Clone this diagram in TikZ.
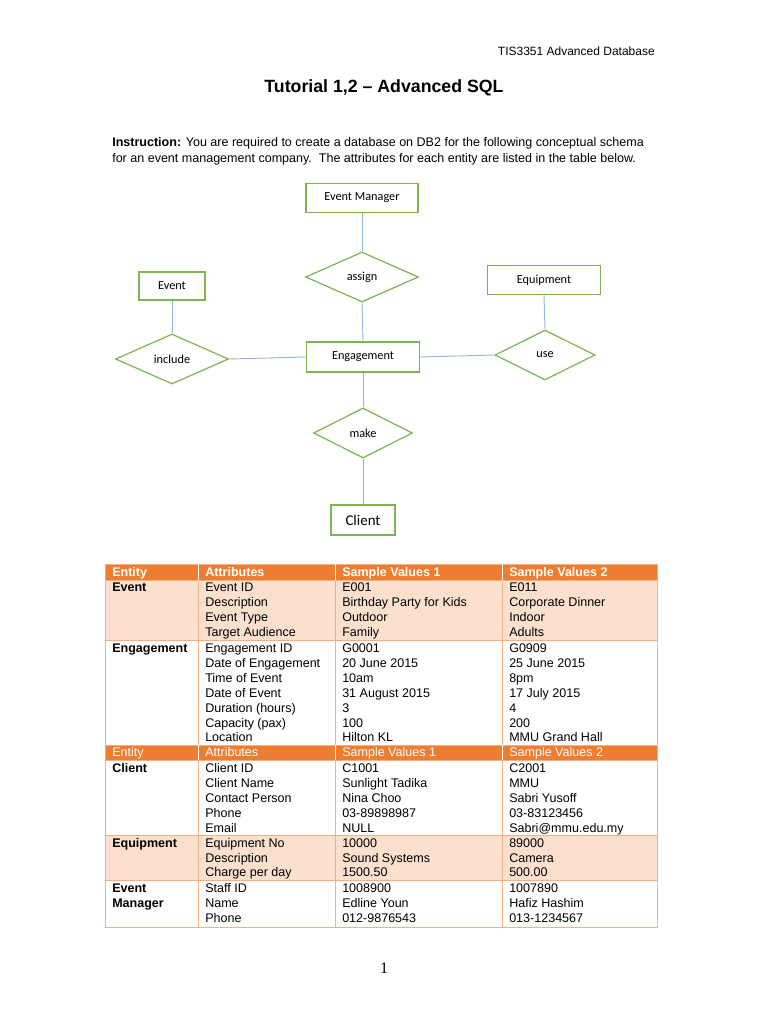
\documentclass[tikz,border=0pt]{standalone}
\usepackage{fontspec}
\setmainfont{Liberation Sans}
\newfontfamily\erfont{Carlito}
\newfontfamily\pagefont{Liberation Serif}
\usetikzlibrary{shapes.geometric}

\definecolor{erGreen}{RGB}{125,180,80}
\definecolor{erBlue}{RGB}{146,183,220}
\definecolor{tabOrange}{RGB}{237,125,49}
\definecolor{tabPeach}{RGB}{251,224,205}
\definecolor{tabLine}{RGB}{244,176,131}

\begin{document}
\begin{tikzpicture}[x=0.75pt,y=-0.75pt]
\tikzstyle{entity}=[draw=erGreen, line width=0.9pt, rectangle, inner sep=0pt, font=\erfont\fontsize{9.2}{11}\selectfont]
\tikzstyle{relation}=[draw=erGreen, line width=0.9pt, diamond, inner sep=0pt, font=\erfont\fontsize{9.2}{11}\selectfont]
\tikzstyle{link}=[draw=erBlue, line width=0.7pt]
\tikzstyle{cell}=[anchor=base west, inner sep=0pt, yshift=-3.4pt, font=\fontsize{9.4}{11}\selectfont]
\tikzstyle{textline}=[anchor=base west, inner sep=0pt, font=\fontsize{9.4}{11}\selectfont]

\fill[white] (0,0) rectangle (768,1024);
\useasboundingbox (0,0) rectangle (768,1024);

% heading
\node[anchor=base east, inner sep=0pt, font=\fontsize{9}{11}\selectfont] (course) at (655,56) {TIS3351 Advanced Database};
\node[inner sep=0pt, font=\bfseries\fontsize{13.3}{16}\selectfont] (title) at (384,88) {Tutorial 1,2 -- Advanced SQL};
\node[textline] (instr1) at (112,146) {\textbf{Instruction:} You are required to create a database on DB2 for the following conceptual schema};
\node[textline] (instr2) at (112,162) {for an event management company.\ \ The attributes for each entity are listed in the table below.};

% ER diagram
\node[entity, minimum width=112*0.75pt, minimum height=29*0.75pt] (em) at (362,198) {Event Manager};
\node[relation, minimum width=113*0.75pt, minimum height=50*0.75pt] (assign) at (362,277) {assign};
\node[entity, minimum width=66*0.75pt, minimum height=28*0.75pt] (event) at (172,286) {Event};
\node[entity, minimum width=113*0.75pt, minimum height=29*0.75pt] (equip) at (544,280) {Equipment};
\node[relation, minimum width=113*0.75pt, minimum height=50*0.75pt] (include) at (172,359) {include};
\node[entity, minimum width=113*0.75pt, minimum height=30*0.75pt] (eng) at (363,357) {Engagement};
\node[relation, minimum width=100*0.75pt, minimum height=50*0.75pt] (use) at (545,355) {use};
\node[relation, minimum width=99*0.75pt, minimum height=50*0.75pt] (make) at (363,433) {make};
\node[entity, minimum width=64*0.75pt, minimum height=30*0.75pt, font=\erfont\fontsize{11.2}{13}\selectfont] (client) at (363,520) {Client};

\foreach \from/\to in {em.south/assign.north, assign.south/eng.north, event.south/include.north, include.east/eng.west, eng.east/use.west, equip.south/use.north, eng.south/make.north, make.south/client.north}
\draw [link] (\from) -- (\to);

% table
\fill[tabOrange] (105,564) rectangle (657,580);
\fill[tabPeach] (105,580) rectangle (657,640);
\fill[tabOrange] (105,745) rectangle (657,760);
\fill[tabPeach] (105,835) rectangle (657,880);
\foreach \y in {580,640,745,760,835,880}
\draw [tabLine] (105,\y) -- (657,\y);
\draw [tabLine] (105,564) rectangle (657,927);
\foreach \x in {198,335,502} {
\draw [white] (\x,564) -- (\x,580);
\draw [tabLine] (\x,580) -- (\x,745);
\draw [white] (\x,745) -- (\x,760);
\draw [tabLine] (\x,760) -- (\x,927);
}

\foreach \y/\w in {572/\bfseries, 752/} {
\node[cell, text=white, font=\w\fontsize{9.4}{11}\selectfont] (hd\y) at (112,\y) {Entity};
\node[cell, text=white, font=\w\fontsize{9.4}{11}\selectfont] (ha\y) at (205,\y) {Attributes};
\node[cell, text=white, font=\w\fontsize{9.4}{11}\selectfont] (hb\y) at (342,\y) {Sample Values 1};
\node[cell, text=white, font=\w\fontsize{9.4}{11}\selectfont] (hc\y) at (509,\y) {Sample Values 2};
}

\foreach \y/\e in {587/Event, 648/Engagement, 768/Client, 843/Equipment, 888/Event, 903/Manager}
\node[cell, font=\bfseries\fontsize{9.4}{11}\selectfont] (ent\y) at (112,\y) {\e};

\foreach \y/\a/\b/\c in {587/Event ID/E001/E011, 602/Description/Birthday Party for Kids/Corporate Dinner, 617/Event Type/Outdoor/Indoor, 632/Target Audience/Family/Adults,
648/Engagement ID/G0001/G0909, 663/Date of Engagement/20 June 2015/25 June 2015, 678/Time of Event/10am/8pm, 693/Date of Event/31 August 2015/17 July 2015, 708/Duration (hours)/3/4, 723/Capacity (pax)/100/200, 737/Location/Hilton KL/MMU Grand Hall,
768/Client ID/C1001/C2001, 783/Client Name/Sunlight Tadika/MMU, 798/Contact Person/Nina Choo/Sabri Yusoff, 813/Phone/03-89898987/03-83123456, 828/Email/NULL/Sabri@mmu.edu.my,
843/Equipment No/10000/89000, 858/Description/Sound Systems/Camera, 872/Charge per day/1500.50/500.00,
888/Staff ID/1008900/1007890, 903/Name/Edline Youn/Hafiz Hashim, 918/Phone/012-9876543/013-1234567} {
\node[cell] (at\y) at (205,\y) {\a};
\node[cell] (sa\y) at (342,\y) {\b};
\node[cell] (sb\y) at (509,\y) {\c};
}

% page number
\node[inner sep=0pt, font=\pagefont\fontsize{12}{14}\selectfont] (page) at (384,968) {1};
\end{tikzpicture}
\end{document}
